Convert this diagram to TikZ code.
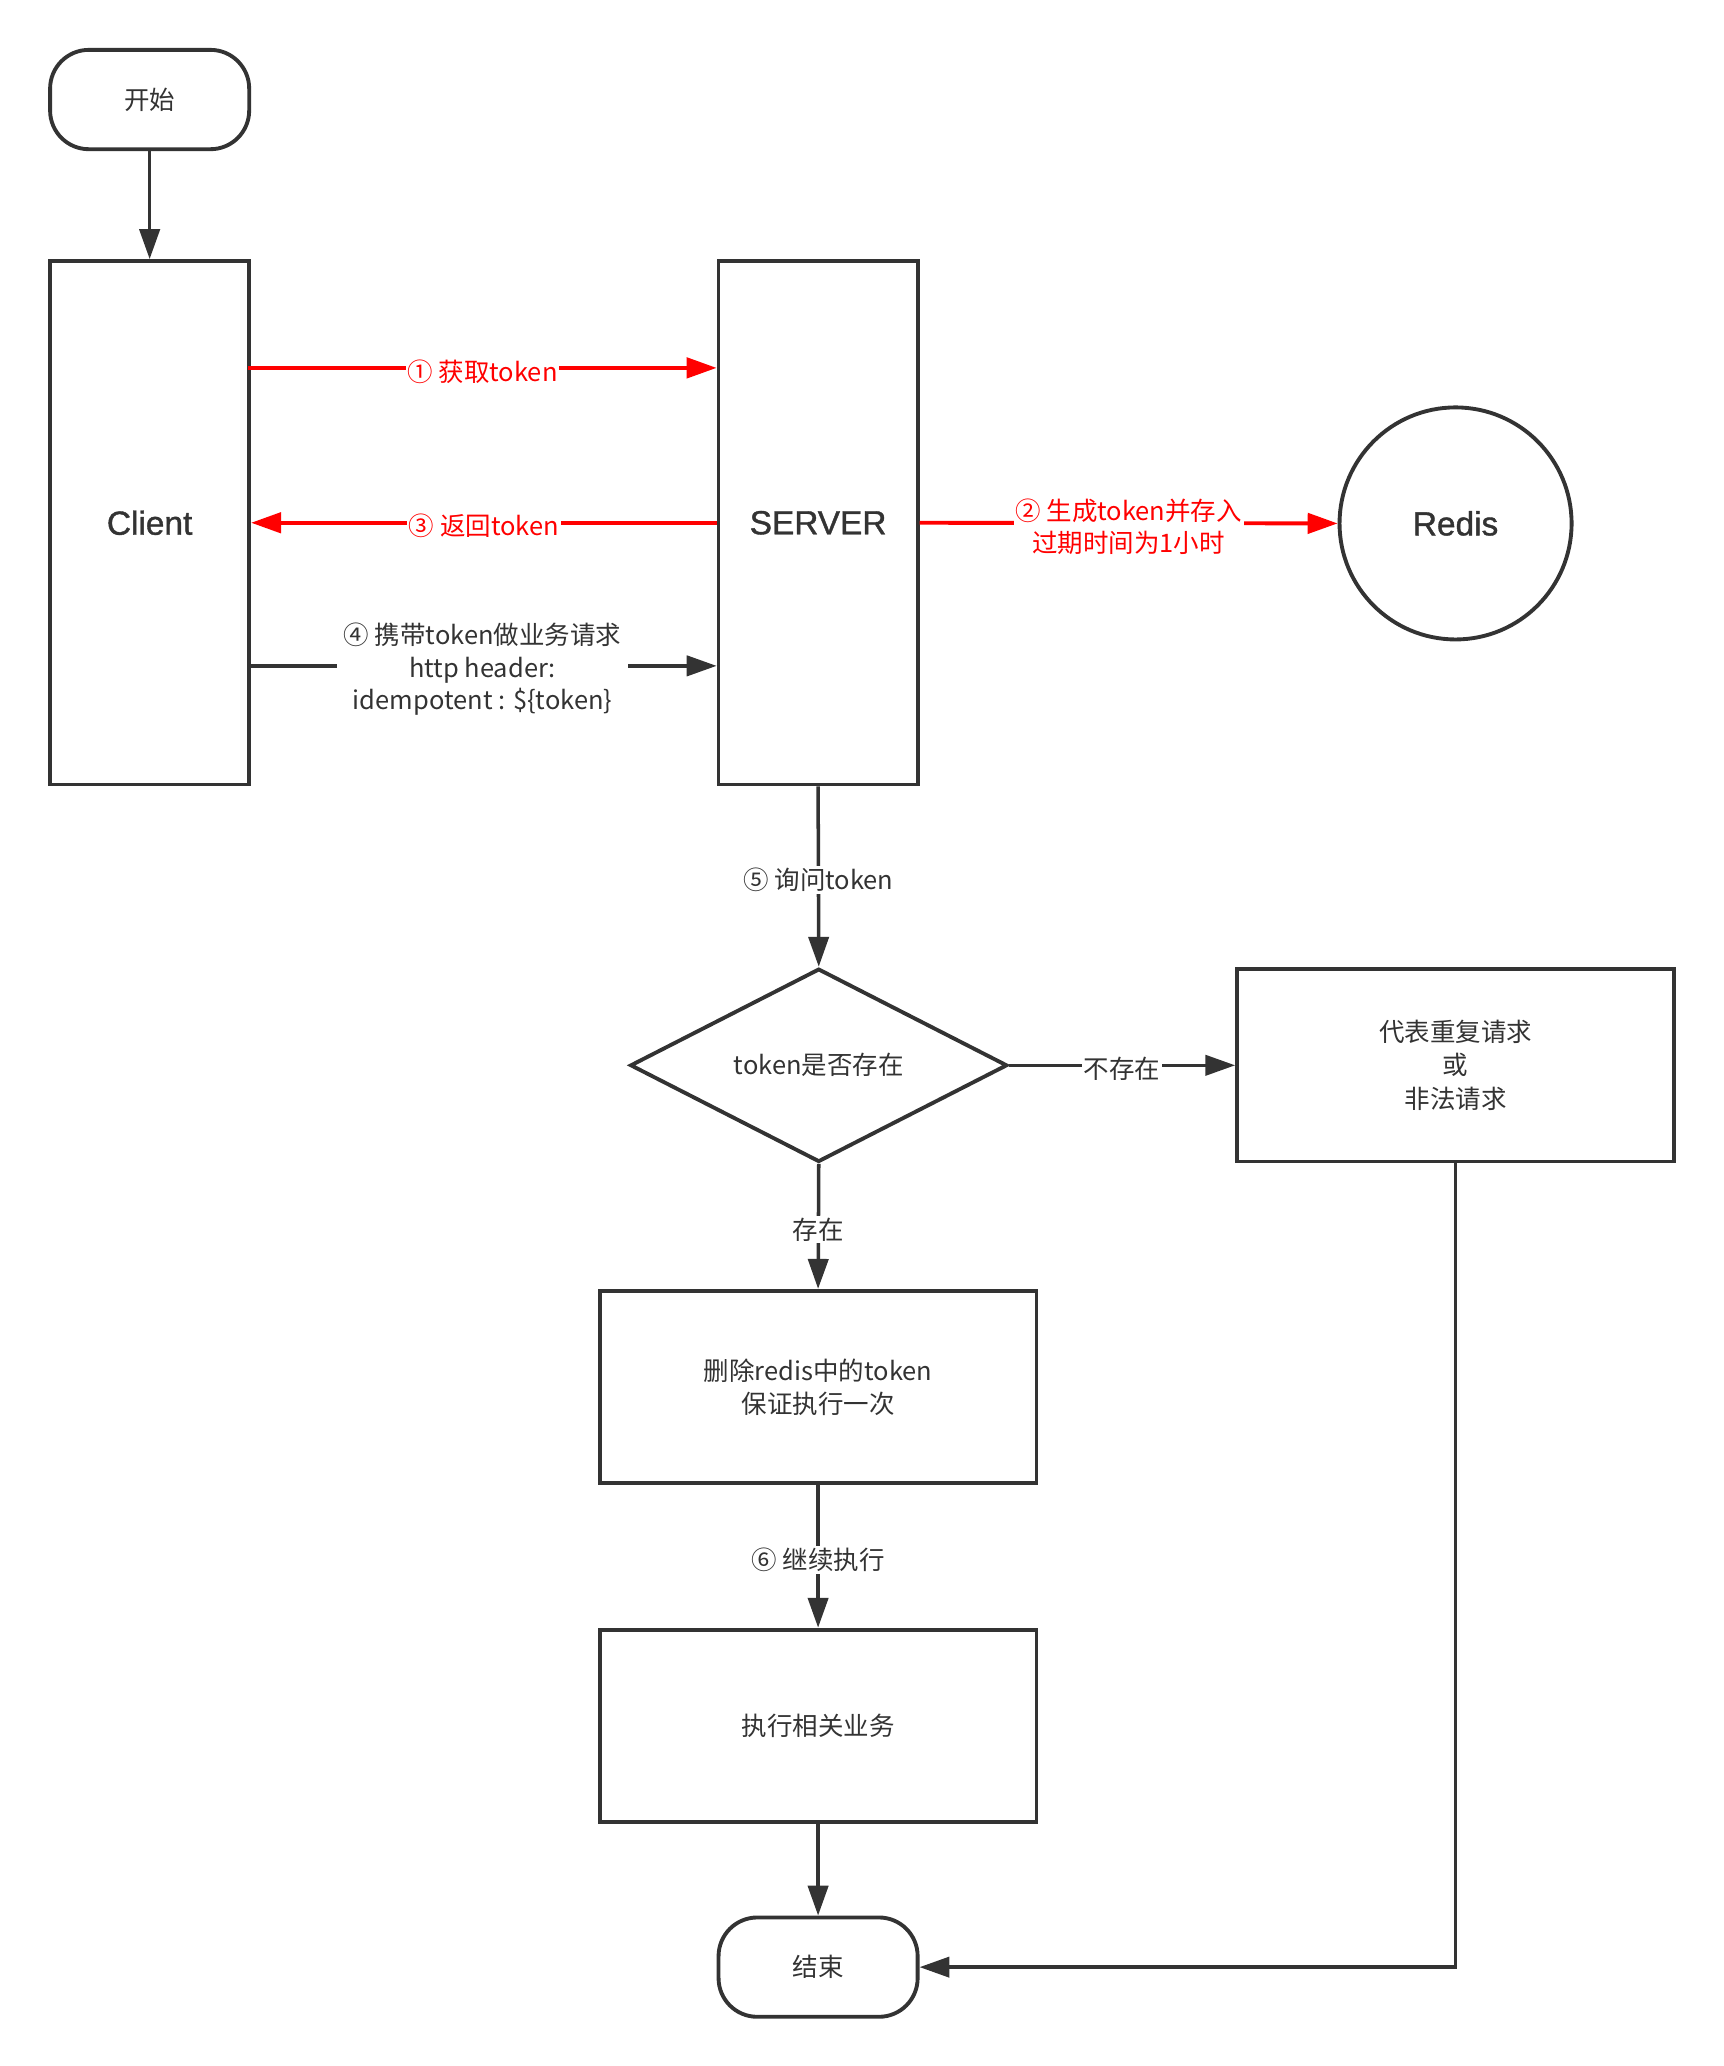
\documentclass[tikz,border=0pt]{standalone}
\usepackage{fontspec}
\setmainfont{Noto Sans CJK SC}
\newfontfamily\bigf{Liberation Sans}[FakeBold=1.2]
\usetikzlibrary{shapes.geometric,arrows.meta,positioning}
\definecolor{dk}{HTML}{333333}
\definecolor{rd}{HTML}{FF0000}
\begin{document}
\begin{tikzpicture}[x=0.75pt,y=-0.75pt,
  box/.style={draw=dk,line width=2.2pt,rectangle,inner sep=0pt,text=dk,font=\fontsize{14.5}{19}\selectfont,align=center},
  bigbox/.style={box,minimum width=113.25pt,minimum height=297.75pt,font=\bigf\fontsize{19}{23}\selectfont},
  term/.style={box,rounded corners=22pt,minimum width=113.25pt,minimum height=56.5pt},
  proc/.style={box,minimum width=248.5pt,minimum height=109.5pt},
  conn/.style={draw=dk,line width=2pt,-{Triangle[length=17pt,width=11.5pt]}},
  rconn/.style={draw=rd,line width=2.2pt,-{Triangle[length=17pt,width=11.5pt]}},
  lbl/.style={fill=white,inner sep=1pt,text=dk,font=\fontsize{14.5}{18.5}\selectfont,align=center,yshift=-2pt},
  rlbl/.style={lbl,text=rd}]
\useasboundingbox (0,0) rectangle (1307,1567);
\node[term] (start) at (113.5,75.5) {开始};
\node[bigbox] (client) at (113.5,396.5) {Client};
\node[bigbox] (server) at (620.5,396.5) {SERVER};
\node[box,circle,minimum size=132pt,font=\bigf\fontsize{19}{23}\selectfont] (redis) at (1104,397) {Redis};
\node[box,diamond,minimum width=214.5pt,minimum height=94.5pt] (dia) at (621,808) {token是否存在};
\node[proc] (dup) at (1104,808) {代表重复请求\\或\\非法请求};
\node[proc] (del) at (620.5,1052) {删除redis中的token\\保证执行一次};
\node[proc] (exec) at (620.5,1309) {执行相关业务};
\node[term] (end) at (620.5,1492) {结束};

\draw[conn] (start) -- (client);
\draw[rconn] ([xshift=-1.5pt,yshift=88.1pt]client.east) -- node[rlbl]{① 获取token} ([yshift=88.1pt]server.west);
\draw[rconn] (server.west) -- node[rlbl]{③ 返回token} (client.east);
\draw[rconn] (server.east) -- node[rlbl]{② 生成token并存入\\过期时间为1小时} (redis.west);
\draw[conn] ([xshift=-1.5pt,yshift=-81.4pt]client.east) -- node[lbl,inner xsep=4pt]{④ 携带token做业务请求\\http header:\\idempotent : \$\{token\}} ([yshift=-81.4pt]server.west);
\draw[conn] (server.south) -- node[lbl]{⑤ 询问token} (dia.north);
\draw[conn] (dia.east) -- node[lbl]{不存在} (dup.west);
\draw[conn] (dia.south) -- node[lbl]{存在} (del.north);
\draw[conn] (del.south) -- node[lbl]{⑥ 继续执行} (exec.north);
\draw[conn] (exec.south) -- (end.north);
\draw[conn] (dup.south) |- (end.east);
\end{tikzpicture}
\end{document}
